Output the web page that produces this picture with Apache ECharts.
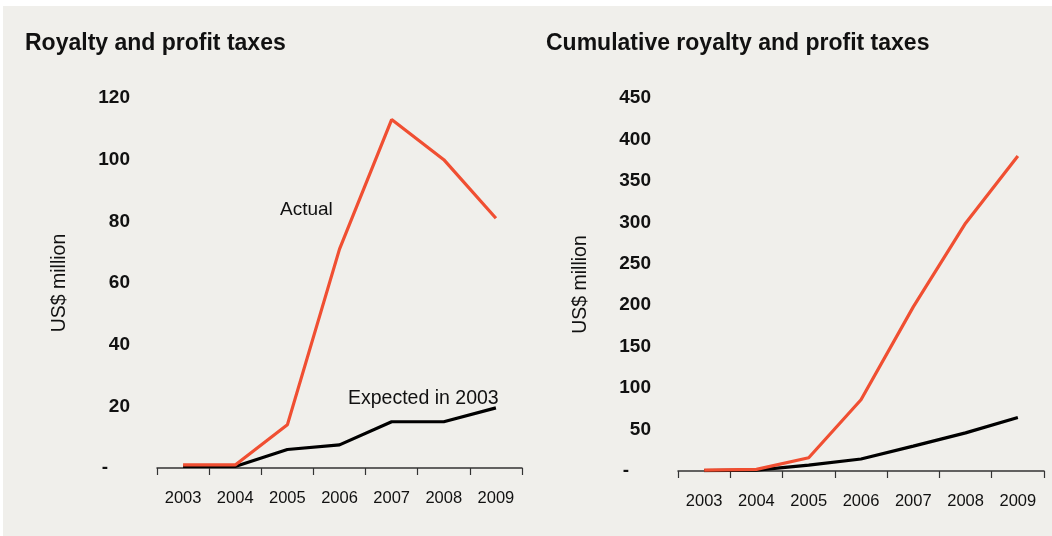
<!DOCTYPE html>
<html>
<head>
<meta charset="utf-8">
<script src="https://cdn.jsdelivr.net/npm/echarts@6/dist/echarts.min.js"></script>
<style>
html,body{margin:0;padding:0;background:#ffffff;}
#wrap{position:absolute;left:3px;top:6px;width:1049px;height:530px;background:#f0efeb;}
#chart{position:absolute;left:0;top:0;width:1052px;height:536px;}
</style>
</head>
<body>
<div id="wrap"></div>
<div id="chart"></div>
<script>
const years = ['2003','2004','2005','2006','2007','2008','2009'];
const actualAnnual = [1, 1, 14, 71, 113, 100, 81];
const expectedAnnual = [0.5, 0.5, 6, 7.5, 15, 15, 19.5];
const actualCumulative = [1, 2, 16, 86, 198, 299, 380];
const expectedCumulative = [0.5, 1, 7, 14.5, 30, 46, 64.5];
const leftTicks = {min: 0, max: 120, interval: 20};
const rightTicks = {min: 0, max: 450, interval: 50};

const FONT = "'Liberation Sans',Arial,sans-serif";
const RED = '#f04f32';

const chart = echarts.init(document.getElementById('chart'));

function xAxis(gi) {
  return {
    type: 'category', gridIndex: gi, data: years, boundaryGap: true,
    axisLine: {lineStyle: {color: '#333', width: 1.5}},
    axisTick: {show: true, length: 7, lineStyle: {color: '#333', width: 1.2}},
    axisLabel: {color: '#111', fontFamily: FONT, fontSize: 16.5, margin: 22, interval: 0}
  };
}
function yAxis(gi, t) {
  return {
    type: 'value', gridIndex: gi, min: t.min, max: t.max, interval: t.interval,
    name: 'US$ million', nameLocation: 'middle', nameGap: 87,
    nameTextStyle: {color: '#111', fontFamily: FONT, fontSize: 19.5},
    axisLine: {show: false}, axisTick: {show: false}, splitLine: {show: false},
    axisLabel: {
      color: '#111', fontFamily: FONT, fontSize: 19, fontWeight: 'bold', margin: 27,
      formatter: v => v === 0 ? '{d|-}' : String(v),
      rich: {d: {fontFamily: FONT, fontSize: 19, fontWeight: 'bold', color: '#111', padding: [0, 22, 0, 0]}}
    }
  };
}
function line(data, color, xi, yi) {
  return {
    type: 'line', data: data, xAxisIndex: xi, yAxisIndex: yi,
    symbol: 'none', lineStyle: {color: color, width: 3.2}, itemStyle: {color: color},
    animation: false, silent: true
  };
}

chart.setOption({
  animation: false,
  backgroundColor: 'transparent',
  title: [
    {text: 'Royalty and profit taxes', left: 20, top: 27,
     textStyle: {fontFamily: FONT, fontSize: 23, fontWeight: 'bold', color: '#111'}},
    {text: 'Cumulative royalty and profit taxes', left: 541, top: 27,
     textStyle: {fontFamily: FONT, fontSize: 23, fontWeight: 'bold', color: '#111'}}
  ],
  grid: [
    {left: 157, width: 365, top: 98, height: 370},
    {left: 678, width: 366, top: 98, height: 373}
  ],
  xAxis: [xAxis(0), xAxis(1)],
  yAxis: [yAxis(0, leftTicks), yAxis(1, rightTicks)],
  series: [
    line(expectedAnnual, '#000', 0, 0),
    line(actualAnnual, RED, 0, 0),
    line(expectedCumulative, '#000', 1, 1),
    line(actualCumulative, RED, 1, 1)
  ],
  graphic: [
    {type: 'text', left: 280, top: 200, silent: true,
     style: {text: 'Actual', fontFamily: FONT, fontSize: 19, fill: '#111'}},
    {type: 'text', left: 348, top: 389, silent: true,
     style: {text: 'Expected in 2003', fontFamily: FONT, fontSize: 19.5, fill: '#111'}}
  ]
});
</script>
</body>
</html>
